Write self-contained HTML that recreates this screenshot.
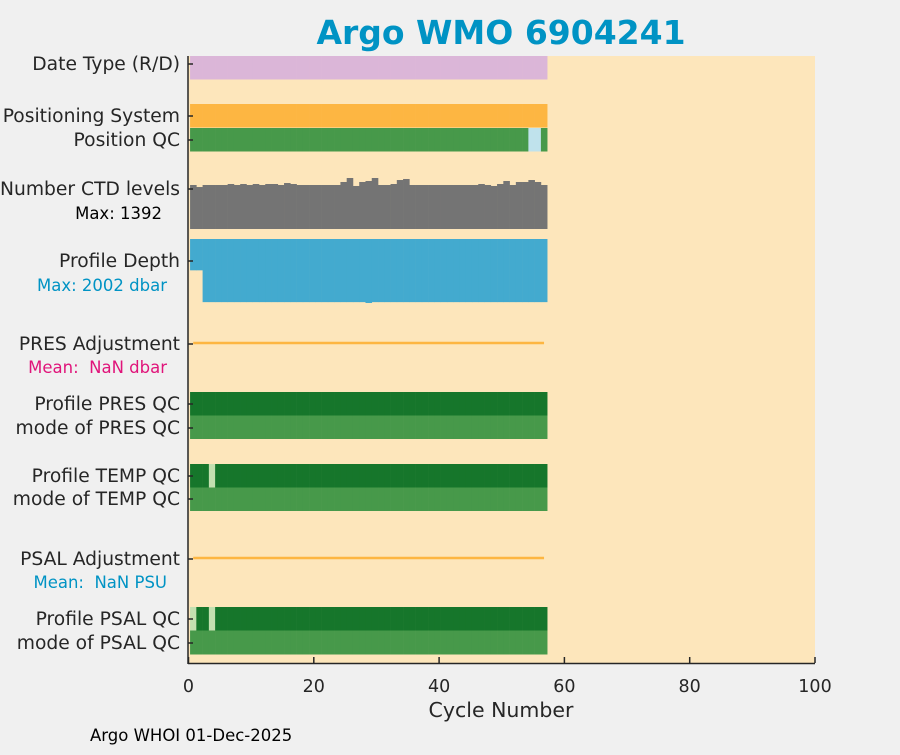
<!DOCTYPE html>
<html><head><meta charset="utf-8"><style>
body{margin:0;background:#f0f0f0;font-family:"Liberation Sans","DejaVu Sans",sans-serif;}
svg text{font-family:"DejaVu Sans","Liberation Sans",sans-serif;white-space:pre;}
</style></head><body>
<svg id="chart" width="900" height="750" xmlns="http://www.w3.org/2000/svg" xml:space="preserve">
<rect width="900" height="750" fill="#f0f0f0"/>
<text x="501" y="44" text-anchor="middle" font-size="33" font-weight="bold" fill="#0093c4">Argo WMO 6904241</text>
<rect x="188.5" y="56" width="626.5" height="607" fill="#fde6bb"/>
<g id="marks"></g>
<g id="axes"></g>
<text x="501" y="717" text-anchor="middle" font-size="20.5" fill="#262626">Cycle Number</text>
<text x="90" y="741" font-size="16.5" fill="#000">Argo WHOI 01-Dec-2025</text>
</svg>
<script>
const cycles = Array.from({length:57},(_,i)=>i+1);
const ctdLevels = [1201,1146,1201,1201,1201,1201,1228,1201,1228,1201,1228,1201,1228,1228,1201,1255,1228,1201,1201,1201,1201,1201,1201,1201,1283,1392,1174,1283,1310,1392,1201,1201,1228,1337,1365,1201,1201,1201,1201,1201,1201,1201,1201,1201,1201,1201,1228,1201,1174,1228,1310,1201,1283,1283,1337,1283,1201];
const ctdMax = 1392;
const profileDepth = cycles.map(c=>c<=2?980:(c===29?2002:1975));
const depthMax = 2002;
const posQC = cycles.map(c=>(c===55||c===56)?'probable':'good');
const tempQC = cycles.map(c=>c===4?'probable':'good');
const psalQC = cycles.map(c=>(c===1||c===4)?'probable':'good');
const xTicks = [0,20,40,60,80,100];
const yLabels = [
 {t:'Date Type (R/D)',y:70,c:'#262626'},
 {t:'Positioning System',y:122,c:'#262626'},
 {t:'Position QC',y:146,c:'#262626'},
 {t:'Number CTD levels',y:195,c:'#262626'},
 {t:'Max: 1392',y:219,c:'#000',sub:true,x:162},
 {t:'Profile Depth',y:267,c:'#262626'},
 {t:'Max: 2002 dbar',y:291,c:'#0093c4',sub:true,x:167},
 {t:'PRES Adjustment',y:350,c:'#262626'},
 {t:'Mean:  NaN dbar',y:373,c:'#e0147a',sub:true,x:167},
 {t:'Profile PRES QC',y:410,c:'#262626'},
 {t:'mode of PRES QC',y:434,c:'#262626'},
 {t:'Profile TEMP QC',y:482,c:'#262626'},
 {t:'mode of TEMP QC',y:505,c:'#262626'},
 {t:'PSAL Adjustment',y:565,c:'#262626'},
 {t:'Mean:  NaN PSU',y:588,c:'#0093c4',sub:true,x:167},
 {t:'Profile PSAL QC',y:625,c:'#262626'},
 {t:'mode of PSAL QC',y:649,c:'#262626'}
];
const NS='http://www.w3.org/2000/svg';
const X0=188.5, XS=(815-188.5)/100;
function x(c){return X0+c*XS;}
const marks=document.getElementById('marks'), axes=document.getElementById('axes');
function rect(p,x1,y1,w,h,f,name){const r=document.createElementNS(NS,'rect');r.setAttribute('x',x1);r.setAttribute('y',y1);r.setAttribute('width',w);r.setAttribute('height',h);r.setAttribute('fill',f);


p.appendChild(r);return r;}
function bl(c){return x(c-0.75);}
const bw=XS+0.3;
const qcCol={good:'#47994a',probable:'#bfe2ec'};
cycles.forEach((c,i)=>{
 rect(marks,bl(c),56,bw,23.5,'#dbb6d8','date-type-bar');
 rect(marks,bl(c),104,bw,23.5,'#fdb642','positioning-system-bar');
 rect(marks,bl(c),128,bw,23.5,qcCol[posQC[i]],'position-qc-bar');
 const h=ctdLevels[i]/ctdMax*51;
 rect(marks,bl(c),229-h,bw,h,'#747474','ctd-levels-bar');
 const d=profileDepth[i]/depthMax*64;
 rect(marks,bl(c),239,bw,d,'#43aacf','profile-depth-bar');
 rect(marks,bl(c),392,bw,23.5,'#16762b','profile-pres-qc-bar');
 rect(marks,bl(c),415.5,bw,23.5,'#47994a','mode-pres-qc-bar');
 rect(marks,bl(c),464,bw,23.5,tempQC[i]==='good'?'#16762b':'#c3e0b0','profile-temp-qc-bar');
 rect(marks,bl(c),487.5,bw,23.5,'#47994a','mode-temp-qc-bar');
 rect(marks,bl(c),607,bw,23.5,psalQC[i]==='good'?'#16762b':'#c3e0b0','profile-psal-qc-bar');
 rect(marks,bl(c),630.5,bw,24,'#47994a','mode-psal-qc-bar');
});
[343,558].forEach((yy,k)=>{const l=document.createElementNS(NS,'line');
l.setAttribute('x1',x(cycles[0]-0.25));l.setAttribute('x2',x(cycles[cycles.length-1]-0.25));l.setAttribute('y1',yy);l.setAttribute('y2',yy);l.setAttribute('stroke','#fdb642');l.setAttribute('stroke-width','2.5');


marks.appendChild(l);});
function line(p,a,b,c,d,name){const l=document.createElementNS(NS,'line');l.setAttribute('x1',a);l.setAttribute('y1',b);l.setAttribute('x2',c);l.setAttribute('y2',d);l.setAttribute('stroke','#262626');l.setAttribute('stroke-width','1.5');


p.appendChild(l);}
line(axes,188,56,188,664,'y-axis-line');
line(axes,188,663.5,815,663.5,'x-axis-line');
xTicks.forEach(v=>{line(axes,x(v),663,x(v),657,'x-tick');
 const t=document.createElementNS(NS,'text');t.setAttribute('x',x(v));t.setAttribute('y',692);t.setAttribute('text-anchor','middle');t.setAttribute('font-size','17.5');t.setAttribute('fill','#262626');t.textContent=v;
 
 
 axes.appendChild(t);});
yLabels.forEach(o=>{
 if(!o.sub) line(axes,188,o.y-6,193,o.y-6,'y-tick');
 const t=document.createElementNS(NS,'text');t.setAttribute('x',o.x||180);t.setAttribute('y',o.y);t.setAttribute('text-anchor','end');t.setAttribute('font-size',o.sub?'16.5':'18.7');t.setAttribute('fill',o.c);t.textContent=o.t;
 
 
 axes.appendChild(t);});
</script>
</body></html>
